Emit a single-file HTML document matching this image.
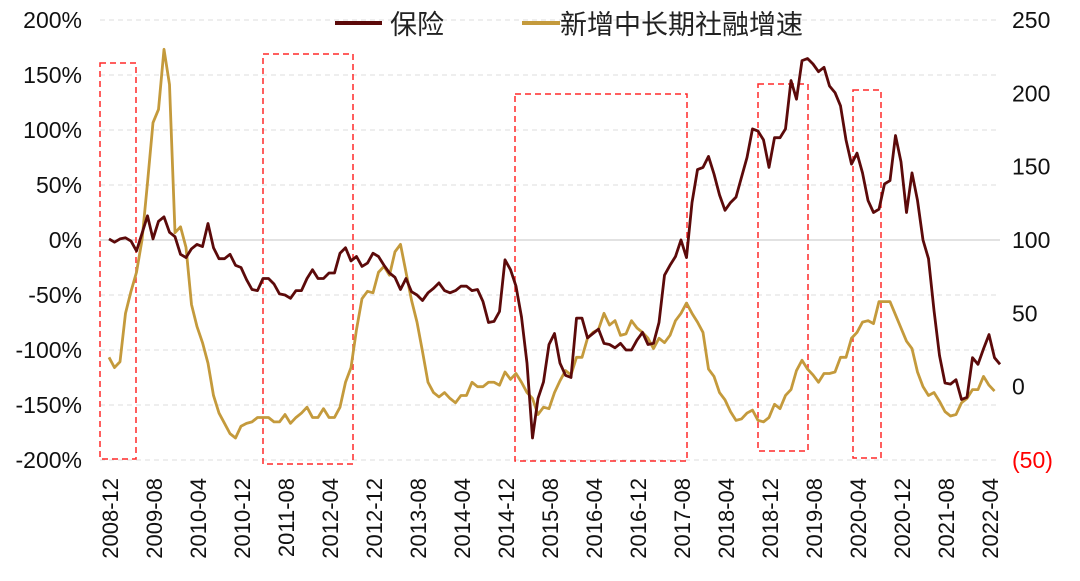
<!DOCTYPE html>
<html><head><meta charset="utf-8">
<style>
html,body{margin:0;padding:0;background:#fff;}
svg{display:block;font-family:"Liberation Sans","Noto Sans CJK SC",sans-serif;}
</style></head>
<body>
<svg id="chart" width="1080" height="581" viewBox="0 0 1080 581" xmlns="http://www.w3.org/2000/svg">
<g id="grid"></g>
<g id="boxes"></g>
<g id="series"></g>
<g id="yleft"></g>
<g id="yright"></g>
<g id="xaxis"></g>
<g>
<line x1="335" y1="23" x2="382" y2="23" stroke="#5c0a0a" stroke-width="4"/>
<text x="390" y="34" font-size="27" fill="#222">保险</text>
<line x1="522" y1="23" x2="560" y2="23" stroke="#c49a3c" stroke-width="4"/>
<text x="560" y="34" font-size="27" fill="#222">新增中长期社融增速</text>
</g>
</svg>
<script>
const insurance=[1,-2,1,2,-1,-10,6,22,1,17,21,7,3,-13,-16,-8,-4,-6,15,-7,-17,-17,-13,-23,-25,-36,-45,-46,-35,-35,-40,-49,-50,-53,-46,-46,-35,-27,-35,-35,-30,-30,-12,-7,-19,-15,-24,-21,-12,-15,-23,-30,-34,-45,-35,-47,-50,-55,-48,-44,-39,-46,-48,-46,-42,-42,-46,-45,-56,-75,-74,-65,-18,-27,-42,-70,-112,-180,-144,-129,-95,-85,-112,-123,-125,-71,-71,-89,-85,-81,-94,-95,-98,-94,-100,-100,-91,-84,-95,-94,-75,-32,-23,-15,0,-16,34,64,66,76,60,41,27,34,39,57,75,101,99,91,66,93,93,101,145,128,163,165,160,153,157,140,134,122,91,69,79,61,36,25,28,51,54,95,71,25,61,36,0,-17,-64,-105,-130,-131,-127,-145,-143,-107,-113,-99,-86,-107,-113];
const credit=[20,13,17,50,65,78,100,139,180,189,230,206,105,109,95,56,41,30,16,-6,-18,-25,-32,-35,-27,-25,-24,-21,-21,-21,-24,-24,-19,-25,-21,-18,-14,-21,-21,-15,-21,-21,-14,3,13,39,60,65,64,78,82,76,92,97,78,59,44,24,3,-4,-7,-4,-8,-11,-6,-6,3,0,0,3,3,1,10,5,9,3,-4,-8,-19,-14,-15,-4,4,11,8,20,20,33,37,39,50,42,45,35,36,45,40,37,33,26,33,30,35,45,50,57,50,44,37,12,7,-4,-9,-17,-23,-22,-18,-16,-23,-24,-21,-12,-15,-6,-2,11,18,12,8,3,9,9,10,20,20,33,37,44,45,43,58,58,58,49,40,31,26,10,0,-6,-4,-10,-17,-20,-19,-11,-8,-2,-2,7,1,-3];
const leftTicks=[200,150,100,50,0,-50,-100,-150,-200];
const rightTicks=[250,200,150,100,50,0,-50];
const xLabels=["2008-12","2009-08","2010-04","2010-12","2011-08","2012-04","2012-12","2013-08","2014-04","2014-12","2015-08","2016-04","2016-12","2017-08","2018-04","2018-12","2019-08","2020-04","2020-12","2021-08","2022-04"];
const NS="http://www.w3.org/2000/svg";
const X0=109,PX=5.5,PL=100,PR=1000;
function xm(m){return X0+PX*m;}
function yl(v){return 240-v*55/50;}
function yr(v){return 240-(v-100)*1.4667;}
function mk(tag,attrs,parent,txt){const e=document.createElementNS(NS,tag);for(const k in attrs)e.setAttribute(k,attrs[k]);if(txt!==undefined)e.textContent=txt;parent.appendChild(e);return e;}
const grid=document.getElementById('grid');
leftTicks.forEach(v=>{
  const l=mk('line',{x1:PL,x2:PR,y1:yl(v),y2:yl(v),stroke:v===0?'#d9d9d9':'#dddddd','stroke-width':v===0?1.5:1,'stroke-dasharray':v===0?'none':'5,4'},grid);
  
  
});
const boxes=document.getElementById('boxes');
[[100,63,36,396],[263,54,90,410],[515,94,172,367],[758,84,50,367],[853,90,28,368]].forEach(b=>{
  const r=mk('rect',{x:b[0],y:b[1],width:b[2],height:b[3],fill:'none',stroke:'#ff2a2a','stroke-width':1.5,'stroke-dasharray':'6,4'},boxes);
  
  
});
const ser=document.getElementById('series');
const pc=mk('polyline',{points:credit.map((v,i)=>xm(i)+','+yr(v)).join(' '),fill:'none',stroke:'#c49a3c','stroke-width':2.8,'stroke-linejoin':'round'},ser);


const pi=mk('polyline',{points:insurance.map((v,i)=>xm(i)+','+yl(v)).join(' '),fill:'none',stroke:'#5c0a0a','stroke-width':2.8,'stroke-linejoin':'round'},ser);


const yL=document.getElementById('yleft');
leftTicks.forEach(v=>{
  const t=mk('text',{x:82,y:yl(v)+8,'text-anchor':'end','font-size':23,fill:'#111'},yL,v+'%');
  
  
});
const yR=document.getElementById('yright');
rightTicks.forEach(v=>{
  const t=mk('text',{x:1012,y:yr(v)+8,'text-anchor':'start','font-size':23,fill:v<0?'#ff0000':'#111'},yR,v<0?'('+(-v)+')':String(v));
  
  
});
const xa=document.getElementById('xaxis');
xLabels.forEach((s,i)=>{
  const cx=xm(i*8)+1;
  const t=mk('text',{x:0,y:0,'text-anchor':'end','font-size':22,fill:'#111',transform:'translate('+(cx+8)+',478) rotate(-90)'},xa,s);
  
  
});
</script>
</body></html>
